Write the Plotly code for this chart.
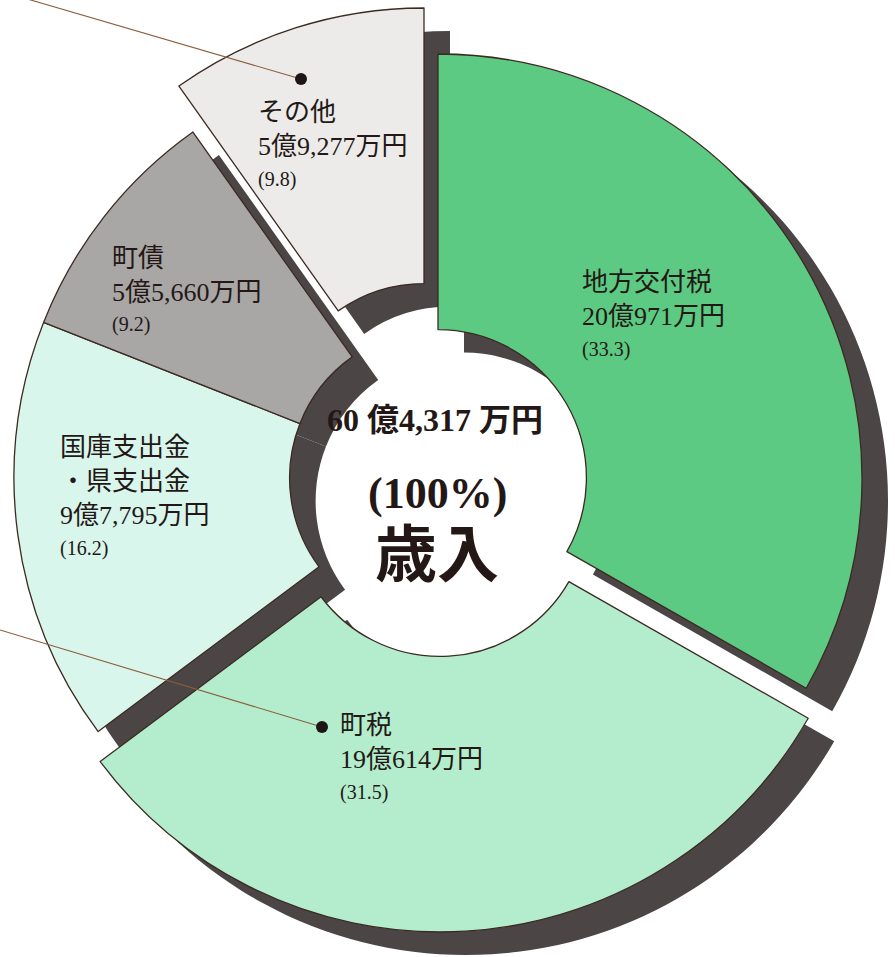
import plotly.graph_objects as go

# ---------------- data ----------------
categories = ["地方交付税", "町税", "国庫支出金・県支出金", "町債", "その他"]
amounts_man = [200971, 190614, 97795, 55660, 59277]          # 万円
amount_labels = ["20億971万円", "19億614万円", "9億7,795万円", "5億5,660万円", "5億9,277万円"]
share_labels = ["(33.3)", "(31.5)", "(16.2)", "(9.2)", "(9.8)"]
total_label = "60 億4,317 万円"
total_share = "(100%)"
center_title = "歳入"

# ---------------- style ----------------
W, H = 895, 957
colors = ["#5cca82", "#b3edce", "#d9f6ec", "#a9a6a6", "#ecebe9"]
shadow_color = "#4b4546"
outline = "#3b2a22"
txt_color = "#231815"
R = 424
HOLE = 0.35
SHADOW_DX, SHADOW_DY = 26, 23
# slice groups: (center px, visible slice indices)
groups = [((438, 478), [0, 2, 3]), ((440, 508), [1]), ((424, 432), [4])]

FONT = "Liberation Serif, Noto Sans CJK JP, serif"
FONT_B = "Liberation Serif, Noto Sans CJK JP, serif"


def px_x(x):
    return x / W


def px_y(y):
    return 1 - y / H


def clamp(v):
    return min(1.0, max(0.0, v))


def make_pie(cx, cy, vis, is_shadow):
    cols, lw = [], []
    for i in range(len(categories)):
        if i in vis:
            cols.append(shadow_color if is_shadow else colors[i])
            lw.append(0 if is_shadow else 1.3)
        else:
            cols.append("rgba(0,0,0,0)")
            lw.append(0)
    return go.Pie(
        labels=categories,
        values=amounts_man,
        sort=False,
        direction="clockwise",
        rotation=0,
        hole=HOLE,
        textinfo="none",
        hoverinfo="skip",
        showlegend=False,
        marker=dict(colors=cols, line=dict(color=outline, width=lw)),
        domain=dict(
            x=[clamp(px_x(cx - R)), clamp(px_x(cx + R))],
            y=[clamp(px_y(cy + R)), clamp(px_y(cy - R))],
        ),
    )


fig = go.Figure()
for (cx, cy), vis in groups:
    fig.add_trace(make_pie(cx + SHADOW_DX, cy + SHADOW_DY, vis, True))
for (cx, cy), vis in groups:
    fig.add_trace(make_pie(cx, cy, vis, False))

annotations = []


def ann(text, x, y, size, bold=False, anchor="left", family=FONT):
    t = f"<b>{text}</b>" if bold else text
    annotations.append(dict(
        text=t, x=px_x(x), y=px_y(y), xref="paper", yref="paper",
        xanchor=anchor, yanchor="middle", showarrow=False,
        font=dict(size=size, color=txt_color, family=family),
    ))


# slice labels: (name lines, left x, y of first line)
label_pos = {
    0: (["地方交付税"], 580, 282),
    1: (["町税"], 338, 725),
    2: (["国庫支出金", "・県支出金"], 58, 447),
    3: (["町債"], 110, 258),
    4: (["その他"], 256, 112),
}
for i, (lines, x, y) in label_pos.items():
    yy = y
    for ln in lines:
        ann(ln, x, yy, 26)
        yy += 34
    ann(amount_labels[i], x, yy, 26)
    ann(share_labels[i], x, yy + 33, 20)

# centre text
ann(total_label, 435, 420, 32, bold=True, anchor="center", family=FONT_B)
ann(total_share, 437, 493, 44, bold=True, anchor="center", family=FONT_B)
ann(center_title, 437, 556, 62, bold=True, anchor="center", family=FONT_B)

# leader lines
shapes = []
leaders = [((0, -9), (301, 79)), ((0, 630), (322, 727))]
for (x0, y0), (x1, y1) in leaders:
    shapes.append(dict(type="line", xref="paper", yref="paper",
                       x0=px_x(x0), y0=px_y(y0), x1=px_x(x1), y1=px_y(y1),
                       line=dict(color="#8b5e3c", width=1.1)))
    r = 6
    shapes.append(dict(type="circle", xref="paper", yref="paper",
                       x0=px_x(x1 - r), x1=px_x(x1 + r), y0=px_y(y1 + r), y1=px_y(y1 - r),
                       fillcolor="#1e1614", line=dict(width=0)))

fig.update_layout(
    width=W, height=H,
    margin=dict(l=0, r=0, t=0, b=0),
    paper_bgcolor="white", plot_bgcolor="white",
    annotations=annotations, shapes=shapes,
    showlegend=False,
)

fig.write_html("out.html", config={"displayModeBar": False},
               post_script="document.body.style.margin='0';")
